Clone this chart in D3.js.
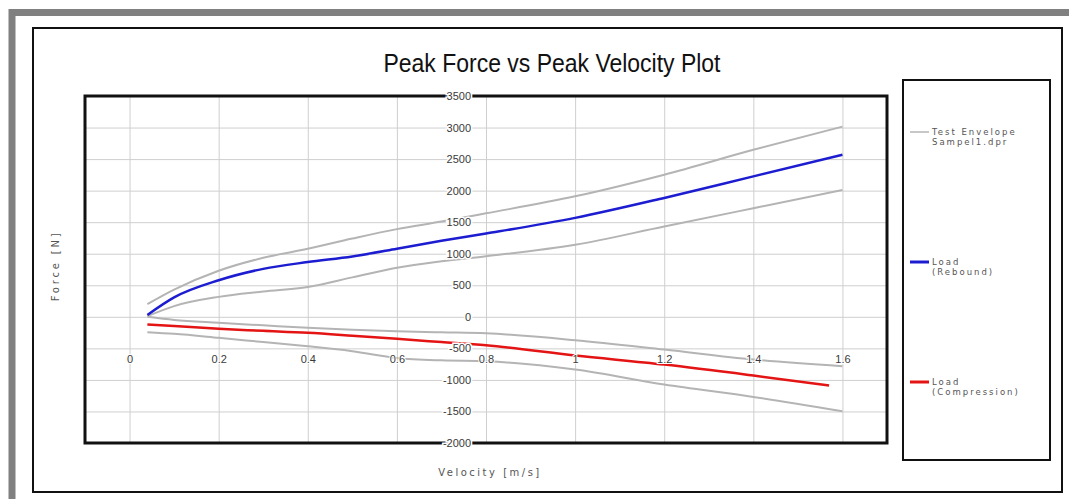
<!DOCTYPE html>
<html>
<head>
<meta charset="utf-8">
<script src="https://cdn.jsdelivr.net/npm/d3@7"></script>
<style>
  body { margin: 0; background: #fff; }
  svg { display: block; }
</style>
</head>
<body>
<div id="chart"></div>
<script>
// Data
var velocity = [0.04, 0.1, 0.2, 0.3, 0.4, 0.5, 0.6, 0.7, 0.8, 1.0, 1.2, 1.4, 1.6]
var compressionVelocity = [0.04, 0.1, 0.2, 0.3, 0.4, 0.5, 0.6, 0.7, 0.8, 1.0, 1.2, 1.4, 1.57]

var envReboundHigh = [200, 430, 730, 935, 1078, 1240, 1390, 1510, 1640, 1910, 2253, 2647, 3015]
var envReboundLow = [10, 170, 316, 400, 473, 625, 778, 880, 960, 1142, 1432, 1721, 2010]
var envCompHigh = [0, -50, -95, -135, -175, -205, -228, -245, -262, -370, -519, -677, -783]
var envCompLow = [-243, -270, -333, -400, -466, -545, -651, -690, -704, -836, -1074, -1270, -1497]

var reboundLoad = [30, 308, 579, 760, 868, 957, 1078, 1205, 1320, 1568, 1884, 2226, 2568]
var compressionLoad = [-122, -145, -190, -222, -254, -300, -349, -400, -452, -614, -757, -931, -1090]

var xTicks = [0, 0.2, 0.4, 0.6, 0.8, 1, 1.2, 1.4, 1.6]
var yTicks = [-2000, -1500, -1000, -500, 0, 500, 1000, 1500, 2000, 2500, 3000, 3500]

var legendItems = [
  { lines: ['Test Envelope', 'Sampel1.dpr'], color: '#b4b4b4', width: 1.5 },
  { lines: ['Load', '(Rebound)'], color: '#1c1cd0', width: 3 },
  { lines: ['Load', '(Compression)'], color: '#e41414', width: 3 }
]

var width = 1069
var height = 499
var plot = { left: 85, top: 96, right: 887, bottom: 443 }

var svg = d3.select("#chart")
  .append("svg")
  .attr("width", width)
  .attr("height", height)

// gray outer frame
svg.append("rect")
  .attr("x", 12)
  .attr("y", 12.5)
  .attr("width", 1070)
  .attr("height", 500)
  .style("fill", "none")
  .style("stroke", "#808080")
  .style("stroke-width", 7)

// inner black frame
svg.append("rect")
  .attr("x", 33)
  .attr("y", 28)
  .attr("width", 1029)
  .attr("height", 464)
  .style("fill", "none")
  .style("stroke", "#111")
  .style("stroke-width", 2)

// Title
svg.append("text")
  .attr("x", 552)
  .attr("y", 72)
  .attr("text-anchor", "middle")
  .attr("textLength", 337)
  .attr("lengthAdjust", "spacingAndGlyphs")
  .style("font-family", "'Liberation Sans Narrow', 'Liberation Sans', Arial, sans-serif")
  .style("font-size", "25px")
  .style("fill", "#111")
  .text("Peak Force vs Peak Velocity Plot")

// Scales
var xScale = d3.scaleLinear()
  .domain([-0.1, 1.7])
  .range([plot.left, plot.right])

var yScale = d3.scaleLinear()
  .domain([-2000, 3500])
  .range([plot.bottom, plot.top])

// Grid
var xGrid = d3.axisBottom(xScale)
  .tickValues(xTicks)
  .tickSize(-(plot.bottom - plot.top))
  .tickFormat("")

var yGrid = d3.axisLeft(yScale)
  .tickValues(yTicks)
  .tickSize(-(plot.right - plot.left))
  .tickFormat("")

svg.append("g")
  .attr("class", "grid")
  .attr("transform", `translate(0,${plot.bottom})`)
  .call(xGrid)
  .call(g => g.select(".domain").remove())
  .selectAll("line")
  .style("stroke", "#cfcfcf")

svg.append("g")
  .attr("class", "grid")
  .attr("transform", `translate(${plot.left},0)`)
  .call(yGrid)
  .call(g => g.select(".domain").remove())
  .selectAll("line")
  .style("stroke", "#cfcfcf")

// Lines
var line = d3.line()
  .x(d => xScale(d[0]))
  .y(d => yScale(d[1]))
  .curve(d3.curveMonotoneX)

function addSeries(xs, ys, color, w) {
  svg.append("path")
    .datum(xs.map((x, i) => [x, ys[i]]))
    .attr("d", line)
    .style("fill", "none")
    .style("stroke", color)
    .style("stroke-width", w)
    .style("stroke-linejoin", "round")
}

addSeries(velocity, envReboundHigh, '#b4b4b4', 2)
addSeries(velocity, envReboundLow, '#b4b4b4', 2)
addSeries(velocity, envCompHigh, '#b4b4b4', 2)
addSeries(velocity, envCompLow, '#b4b4b4', 2)
addSeries(velocity, reboundLoad, '#1c1cd0', 2.5)
addSeries(compressionVelocity, compressionLoad, '#e41414', 2.5)

// plot border
svg.append("rect")
  .attr("x", plot.left)
  .attr("y", plot.top)
  .attr("width", plot.right - plot.left)
  .attr("height", plot.bottom - plot.top)
  .style("fill", "none")
  .style("stroke", "#111")
  .style("stroke-width", 3)

var tickFont = "'Liberation Sans Narrow', 'Liberation Sans', Arial, sans-serif"

// X axis (crosses at -500)
var xAxis = d3.axisBottom(xScale)
  .tickValues(xTicks)
  .tickSize(0)
  .tickPadding(7)
  .tickFormat(d => String(+d.toFixed(1)))

svg.append("g")
  .attr("class", "x-axis")
  .attr("transform", `translate(0,${yScale(-500)})`)
  .call(xAxis)
  .call(g => g.select(".domain").remove())
  .selectAll("text")
  .style("font-family", tickFont)
  .style("font-size", "11px")
  .style("fill", "#3a3a3a")
  .style("stroke", "#fff")
  .style("stroke-width", 2)
  .style("paint-order", "stroke")

// Y axis (crosses at 0.78)
var yAxis = d3.axisLeft(yScale)
  .tickValues(yTicks)
  .tickSize(0)
  .tickPadding(6)
  .tickFormat(d => String(d))

svg.append("g")
  .attr("class", "y-axis")
  .attr("transform", `translate(${xScale(0.78)},0)`)
  .call(yAxis)
  .call(g => g.select(".domain").remove())
  .selectAll("text")
  .style("font-family", tickFont)
  .style("font-size", "11px")
  .style("fill", "#3a3a3a")
  .style("stroke", "#fff")
  .style("stroke-width", 3)
  .style("paint-order", "stroke")

// Axis titles
svg.append("text")
  .attr("transform", "translate(59,266) rotate(-90)")
  .attr("text-anchor", "middle")
  .style("font-family", "'DejaVu Sans', sans-serif")
  .style("font-size", "10px")
  .style("letter-spacing", "2.8px")
  .style("fill", "#555")
  .text("Force [N]")

svg.append("text")
  .attr("x", 490)
  .attr("y", 476)
  .attr("text-anchor", "middle")
  .style("font-family", "'DejaVu Sans', sans-serif")
  .style("font-size", "10px")
  .style("letter-spacing", "2.5px")
  .style("fill", "#555")
  .text("Velocity [m/s]")

// Legend
svg.append("rect")
  .attr("x", 903)
  .attr("y", 80)
  .attr("width", 147)
  .attr("height", 380)
  .style("fill", "#fff")
  .style("stroke", "#111")
  .style("stroke-width", 2)

var legendY = [132, 262, 382]

legendItems.forEach((item, i) => {
  svg.append("line")
    .attr("x1", 910)
    .attr("x2", 929)
    .attr("y1", legendY[i])
    .attr("y2", legendY[i])
    .style("stroke", item.color)
    .style("stroke-width", item.width)

  item.lines.forEach((t, j) => {
    svg.append("text")
      .attr("x", 932)
      .attr("y", legendY[i] + 3 + j * 10)
      .style("font-family", "'DejaVu Sans', sans-serif")
      .style("font-size", "8.5px")
      .style("letter-spacing", "2px")
      .style("fill", "#555")
      .text(t)
  })
})
</script>
</body>
</html>
